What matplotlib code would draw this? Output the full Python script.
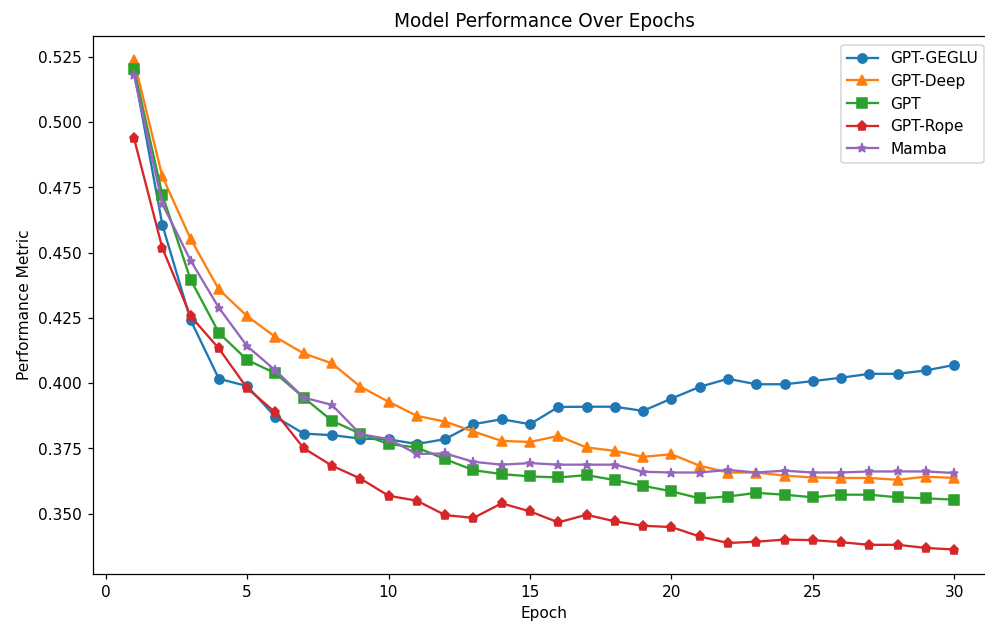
import matplotlib
matplotlib.use("Agg")
import matplotlib.pyplot as plt

epochs = list(range(1, 31))

gpt_geglu = [0.5195, 0.4607, 0.4242, 0.4017, 0.3989, 0.3871, 0.3807, 0.3801, 0.3788, 0.3785,
             0.3767, 0.3786, 0.3843, 0.3862, 0.3843, 0.3909, 0.3910, 0.3910, 0.3894, 0.3941,
             0.3986, 0.4017, 0.3996, 0.3996, 0.4008, 0.4021, 0.4036, 0.4036, 0.4049, 0.4070]
gpt_deep = [0.5237, 0.4792, 0.4553, 0.4359, 0.4257, 0.4177, 0.4114, 0.4076, 0.3987, 0.3929,
            0.3875, 0.3853, 0.3815, 0.3779, 0.3775, 0.3798, 0.3754, 0.3741, 0.3718, 0.3728,
            0.3684, 0.3658, 0.3658, 0.3646, 0.3639, 0.3637, 0.3637, 0.3630, 0.3642, 0.3637]
gpt = [0.5205, 0.4722, 0.4397, 0.4193, 0.4089, 0.4038, 0.3945, 0.3856, 0.3807, 0.3767,
       0.3754, 0.3709, 0.3667, 0.3652, 0.3643, 0.3639, 0.3648, 0.3629, 0.3607, 0.3586,
       0.3559, 0.3566, 0.3580, 0.3573, 0.3563, 0.3573, 0.3573, 0.3563, 0.3559, 0.3554]
gpt_rope = [0.4938, 0.4518, 0.4257, 0.4133, 0.3981, 0.3888, 0.3751, 0.3684, 0.3635, 0.3569,
            0.3550, 0.3495, 0.3484, 0.3540, 0.3509, 0.3467, 0.3496, 0.3471, 0.3454, 0.3449,
            0.3413, 0.3388, 0.3393, 0.3401, 0.3399, 0.3391, 0.3381, 0.3381, 0.3369, 0.3363]
mamba = [0.5180, 0.4687, 0.4470, 0.4289, 0.4142, 0.4049, 0.3945, 0.3917, 0.3805, 0.3786,
         0.3729, 0.3731, 0.3699, 0.3688, 0.3694, 0.3688, 0.3688, 0.3688, 0.3661, 0.3658,
         0.3658, 0.3668, 0.3658, 0.3665, 0.3658, 0.3658, 0.3662, 0.3662, 0.3662, 0.3656]

series = [
    ("GPT-GEGLU", gpt_geglu, "o"),
    ("GPT-Deep", gpt_deep, "^"),
    ("GPT", gpt, "s"),
    ("GPT-Rope", gpt_rope, "p"),
    ("Mamba", mamba, "*"),
]

W, H = 985, 623
DPI = 111
fig = plt.figure(figsize=((W + 0.2) / DPI, (H + 0.2) / DPI), dpi=DPI)
left, right, top, bottom = 93, 995, 36, 574
ax = fig.add_axes([left / W, 1 - bottom / H, (right - left) / W, (bottom - top) / H])

for name, vals, mk in series:
    ax.plot(epochs, vals, marker=mk, label=name)

ax.set_title("Model Performance Over Epochs")
ax.set_xlabel("Epoch")
ax.set_ylabel("Performance Metric")
ax.set_yticks([0.350, 0.375, 0.400, 0.425, 0.450, 0.475, 0.500, 0.525])
ax.set_xticks([0, 5, 10, 15, 20, 25, 30])
ax.legend(loc="upper right", bbox_to_anchor=(984 / W, 1 - 45 / H),
          bbox_transform=fig.transFigure, borderaxespad=0)

fig.savefig("out.png", dpi=DPI)
